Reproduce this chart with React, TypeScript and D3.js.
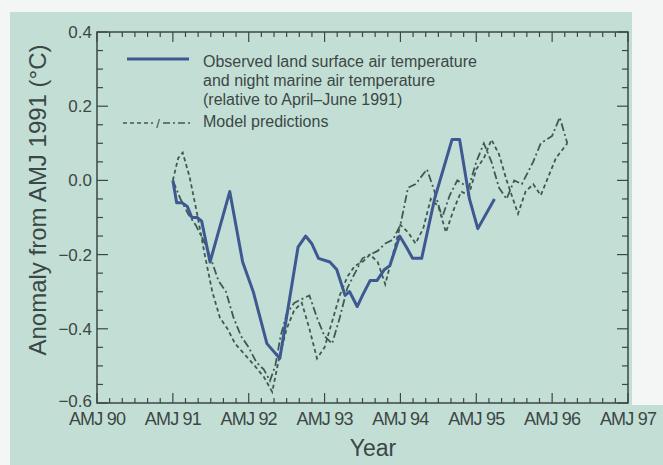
import React from 'react';
import * as d3 from 'd3';

// time in years, 1991 = AMJ 91
const obsTime = [1991.0, 1991.05, 1991.12, 1991.19, 1991.25, 1991.32, 1991.38, 1991.42, 1991.49, 1991.75, 1991.92, 1992.06, 1992.24, 1992.41, 1992.65, 1992.75, 1992.83, 1992.92, 1993.07, 1993.16, 1993.27, 1993.33, 1993.43, 1993.5, 1993.6, 1993.69, 1993.79, 1993.86, 1993.99, 1994.08, 1994.16, 1994.28, 1994.45, 1994.68, 1994.78, 1994.91, 1995.02, 1995.24];
const obsValue = [0.0, -0.06, -0.06, -0.07, -0.1, -0.1, -0.11, -0.15, -0.22, -0.03, -0.22, -0.3, -0.44, -0.48, -0.18, -0.15, -0.17, -0.21, -0.22, -0.24, -0.31, -0.3, -0.34, -0.31, -0.27, -0.27, -0.24, -0.23, -0.15, -0.18, -0.21, -0.21, -0.05, 0.11, 0.11, -0.05, -0.13, -0.05];

const modelATime = [1991.0, 1991.07, 1991.13, 1991.22, 1991.32, 1991.42, 1991.52, 1991.62, 1991.72, 1991.82, 1991.95, 1992.08, 1992.2, 1992.31, 1992.4, 1992.5, 1992.6, 1992.7, 1992.8, 1992.9, 1993.0, 1993.1, 1993.2, 1993.3, 1993.4, 1993.5, 1993.6, 1993.7, 1993.8, 1993.9, 1994.0, 1994.1, 1994.2, 1994.3, 1994.4, 1994.5, 1994.6, 1994.7, 1994.8, 1994.9, 1995.0, 1995.1, 1995.2, 1995.3, 1995.4, 1995.55, 1995.65, 1995.75, 1995.85, 1995.95, 1996.05, 1996.2];
const modelAValue = [0.0, 0.06, 0.075, 0.01, -0.09, -0.2, -0.3, -0.37, -0.4, -0.44, -0.47, -0.5, -0.53, -0.57, -0.48, -0.4, -0.35, -0.33, -0.4, -0.48, -0.45, -0.38, -0.31, -0.26, -0.23, -0.22, -0.2, -0.22, -0.28, -0.2, -0.12, -0.14, -0.17, -0.13, -0.05, -0.07, -0.14, -0.08, -0.03, -0.04, 0.03, 0.06, 0.11, 0.07, 0.0, -0.09, -0.03, -0.01, -0.04, 0.01, 0.06, 0.1];

const modelBTime = [1991.0, 1991.1, 1991.2, 1991.3, 1991.4, 1991.5, 1991.6, 1991.7, 1991.8, 1991.9, 1992.0, 1992.1, 1992.2, 1992.28, 1992.35, 1992.42, 1992.5, 1992.6, 1992.7, 1992.8, 1992.9, 1993.0, 1993.1, 1993.2, 1993.3, 1993.4, 1993.5, 1993.6, 1993.7, 1993.8, 1993.9, 1994.0, 1994.1, 1994.2, 1994.35, 1994.45, 1994.55, 1994.65, 1994.75, 1994.9, 1995.0, 1995.1, 1995.2, 1995.3, 1995.4, 1995.5, 1995.6, 1995.75, 1995.85, 1996.0, 1996.1, 1996.2];
const modelBValue = [0.0, -0.05, -0.09, -0.12, -0.16, -0.21, -0.27, -0.3, -0.37, -0.42, -0.45, -0.49, -0.51, -0.54, -0.5, -0.42, -0.36, -0.33, -0.32, -0.31, -0.37, -0.42, -0.44, -0.37, -0.29, -0.25, -0.21, -0.2, -0.19, -0.17, -0.16, -0.12, -0.02, -0.01, 0.03, -0.03, -0.1, -0.04, 0.0, -0.02, 0.05, 0.1, 0.05, -0.02, -0.05, 0.0, -0.01, 0.05, 0.1, 0.12, 0.17, 0.1];

const xTickYears = [1990, 1991, 1992, 1993, 1994, 1995, 1996, 1997];
const xTickLabels = ['AMJ 90', 'AMJ 91', 'AMJ 92', 'AMJ 93', 'AMJ 94', 'AMJ 95', 'AMJ 96', 'AMJ 97'];
const yTicks = [0.4, 0.2, 0.0, -0.2, -0.4, -0.6];
const legendLines = ['Observed land surface air temperature', 'and night marine air temperature', '(relative to April\u2013June 1991)'];

const W = 663;
const H = 465;
const left = 97, right = 628, top = 32, bottom = 403;
const ink = '#3b4745';
const font = '"Liberation Sans", Arial, Helvetica, sans-serif';

export default function App() {
  const x = d3.scaleLinear().domain([1990, 1997]).range([left, right]);
  const y = d3.scaleLinear().domain([-0.6, 0.4]).range([bottom, top]);

  const line = d3.line<[number, number]>().x(d => x(d[0])).y(d => y(d[1]));
  const obs = line(obsTime.map((t, i) => [t, obsValue[i]]));
  const mA = line(modelATime.map((t, i) => [t, modelAValue[i]]));
  const mB = line(modelBTime.map((t, i) => [t, modelBValue[i]]));

  const xMinor = d3.range(0, 7 * 6 + 1).map(i => 1990 + i / 6);
  const yMinor = d3.range(0, 21).map(i => -0.6 + i * 0.05);

  return (
    <svg width={W} height={H} style={{ position: 'absolute', left: 0, top: 0 }} xmlns="http://www.w3.org/2000/svg">
      <rect x={0} y={0} width={W} height={H} fill="#f4f6f5" />
      <rect x={10} y={12} width={622} height={H - 12} fill="#c3dfd5" />
      <rect x={632} y={405} width={W - 632} height={H - 405} fill="#c3dfd5" />

      {/* minor/major ticks */}
      {xMinor.map((t, i) => {
        const major = i % 6 === 0;
        const len = major ? 10 : 5;
        return (
          <g key={'xt' + i} stroke={ink} strokeWidth={1.2}>
            <line x1={x(t)} x2={x(t)} y1={bottom} y2={bottom - len} />
            <line x1={x(t)} x2={x(t)} y1={top} y2={top + len} />
          </g>
        );
      })}
      {yMinor.map((v, i) => {
        const major = i % 4 === 0;
        const len = major ? 11 : 6;
        return (
          <g key={'yt' + i} stroke={ink} strokeWidth={1.2}>
            <line x1={left} x2={left + len} y1={y(v)} y2={y(v)} />
            <line x1={right} x2={right - len} y1={y(v)} y2={y(v)} />
          </g>
        );
      })}
      <rect x={left} y={top} width={right - left} height={bottom - top} fill="none" stroke={ink} strokeWidth={1.5} />

      {/* tick labels */}
      {yTicks.map(v => (
        <text key={'yl' + v} x={left - 5} y={y(v) - (v === -0.6 ? 2 : 0)} dy="0.35em" textAnchor="end" fontFamily={font} fontSize={17} fill={ink}>
          {v < 0 ? '\u2212' + Math.abs(v).toFixed(1) : v.toFixed(1)}
        </text>
      ))}
      {xTickYears.map((t, i) => (
        <text key={'xl' + t} x={x(t)} y={bottom + 22} textAnchor="middle" fontFamily={font} fontSize={18} letterSpacing={-0.8} fill={ink}>
          {xTickLabels[i]}
        </text>
      ))}

      <text x={373} y={456} textAnchor="middle" fontFamily={font} fontSize={23} fill={ink}>Year</text>
      <text transform={`translate(46,200) rotate(-90)`} textAnchor="middle" fontFamily={font} fontSize={24} fill={ink}>
        Anomaly from AMJ 1991 (°C)
      </text>

      {/* data */}
      <path d={mA ?? ''} fill="none" stroke="#3e5a55" strokeWidth={1.8} strokeDasharray="4,3" />
      <path d={mB ?? ''} fill="none" stroke="#3e5a55" strokeWidth={1.8} strokeDasharray="8,3,2,3" />
      <path d={obs ?? ''} fill="none" stroke="#3e5991" strokeWidth={3} strokeLinejoin="round" />

      {/* legend */}
      <line x1={127} x2={189} y1={59} y2={59} stroke="#3e5991" strokeWidth={3} />
      {legendLines.map((s, i) => (
        <text key={'lg' + i} x={203} y={62 + i * 19} dy="0.3em" fontFamily={font} fontSize={16} fill={ink}>{s}</text>
      ))}
      <line x1={123} x2={153} y1={123} y2={123} stroke="#3e5a55" strokeWidth={1.6} strokeDasharray="4,3" />
      <text x={158} y={123} dy="0.35em" textAnchor="middle" fontFamily={font} fontSize={13} fill={ink}>/</text>
      <line x1={163} x2={193} y1={123} y2={123} stroke="#3e5a55" strokeWidth={1.6} strokeDasharray="7,3,2,3" />
      <text x={203} y={122} dy="0.3em" fontFamily={font} fontSize={16} fill={ink}>Model predictions</text>
    </svg>
  );
}
